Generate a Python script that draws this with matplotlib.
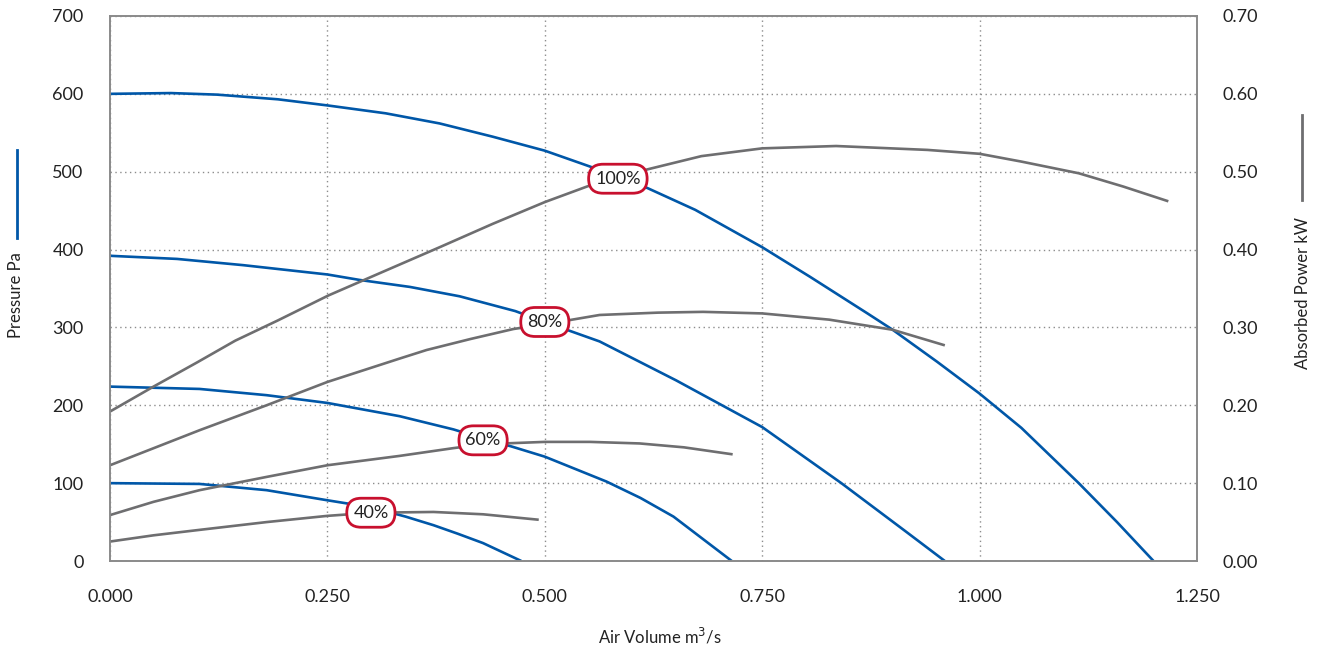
import matplotlib
matplotlib.use("Agg")
import matplotlib.pyplot as plt
from matplotlib.lines import Line2D
from matplotlib.ticker import FormatStrFormatter

plt.rcParams['font.family'] = ['Lato', 'DejaVu Sans']

# fan pressure curves (Pa) per speed
q_p100 = [0, 0.07, 0.123, 0.193, 0.251, 0.317, 0.379, 0.44, 0.5, 0.551, 0.618, 0.673, 0.75,
          0.805, 0.871, 0.9, 0.951, 1.0, 1.048, 1.114, 1.158, 1.2]
p100 = [600, 601, 599, 593, 585, 575, 562, 545, 527, 507, 479, 451, 403,
        365, 318, 297, 256, 215, 171, 100, 50, 0]
q_p80 = [0, 0.077, 0.153, 0.25, 0.287, 0.345, 0.402, 0.466, 0.5, 0.563, 0.651, 0.75, 0.841, 0.915, 0.96]
p80 = [392, 388, 380, 368, 361, 352, 340, 321, 307, 282, 232, 172, 100, 38, 0]
q_p60 = [0, 0.103, 0.18, 0.25, 0.333, 0.395, 0.43, 0.462, 0.5, 0.571, 0.61, 0.648, 0.715]
p60 = [224, 221, 213, 203, 186, 169, 157, 147, 134, 102, 81, 57, 0]
q_p40 = [0, 0.103, 0.18, 0.25, 0.30, 0.34, 0.372, 0.40, 0.429, 0.473]
p40 = [100, 99, 91, 78, 69, 57, 46, 35, 23, 0]

# absorbed power curves (kW)
q_w100 = [0, 0.05, 0.1, 0.144, 0.193, 0.251, 0.317, 0.379, 0.44, 0.5, 0.551, 0.618, 0.68,
          0.75, 0.835, 0.94, 1.0, 1.048, 1.114, 1.165, 1.217]
w100 = [0.192, 0.224, 0.255, 0.283, 0.309, 0.341, 0.373, 0.403, 0.433, 0.461, 0.482, 0.503, 0.520,
        0.530, 0.533, 0.528, 0.523, 0.513, 0.498, 0.481, 0.462]
q_w80 = [0, 0.103, 0.18, 0.25, 0.333, 0.364, 0.414, 0.464, 0.5, 0.563, 0.63, 0.682, 0.75, 0.827, 0.9, 0.96]
w80 = [0.123, 0.168, 0.200, 0.230, 0.260, 0.271, 0.285, 0.298, 0.304, 0.316, 0.319, 0.320, 0.318, 0.310, 0.297, 0.277]
q_w60 = [0, 0.05, 0.103, 0.18, 0.25, 0.333, 0.395, 0.43, 0.5, 0.552, 0.609, 0.66, 0.716]
w60 = [0.059, 0.076, 0.091, 0.108, 0.123, 0.135, 0.145, 0.150, 0.153, 0.153, 0.151, 0.146, 0.137]
q_w40 = [0, 0.05, 0.103, 0.18, 0.25, 0.30, 0.372, 0.429, 0.493]
w40 = [0.025, 0.033, 0.040, 0.050, 0.058, 0.062, 0.063, 0.060, 0.053]

speed_labels = ["100%", "80%", "60%", "40%"]
label_q = [0.584, 0.50, 0.429, 0.30]
label_p = [491, 307, 155, 62]

blue = "#0057a8"
grey = "#6e6e70"
red = "#c8102e"

fig = plt.figure(figsize=(13.24, 6.5), dpi=100)
ax = fig.add_axes([0.0831, 0.1369, 0.821, 0.8385])
ax2 = ax.twinx()

for q, p in [(q_p100, p100), (q_p80, p80), (q_p60, p60), (q_p40, p40)]:
    ax.plot(q, p, color=blue, lw=1.9, solid_capstyle='butt', solid_joinstyle='round')
for q, w in [(q_w100, w100), (q_w80, w80), (q_w60, w60), (q_w40, w40)]:
    ax2.plot(q, w, color=grey, lw=1.9, solid_capstyle='butt', solid_joinstyle='round')

ax.set_xlim(0, 1.25)
ax.set_ylim(0, 700)
ax2.set_ylim(0, 0.70)
ax.set_xticks([0, 0.25, 0.5, 0.75, 1.0, 1.25])
ax.set_yticks(range(0, 701, 100))
ax2.set_yticks([i / 10 for i in range(8)])
ax.xaxis.set_major_formatter(FormatStrFormatter('%.3f'))
ax2.yaxis.set_major_formatter(FormatStrFormatter('%.2f'))

ax.grid(True, ls=(0, (1, 2.5)), color="#8c8c8c", lw=1.0)
ax.tick_params(axis='both', length=0, labelsize=13, colors="#222222")
ax.tick_params(axis='x', pad=20)
ax.tick_params(axis='y', pad=19)
ax2.tick_params(axis='y', length=0, labelsize=13, colors="#222222", pad=18)
for a in (ax, ax2):
    for s in a.spines.values():
        s.set_color("#8a8a8a")
        s.set_linewidth(1.2)

for txt, q, p in zip(speed_labels, label_q, label_p):
    ax2.text(q, p, txt, transform=ax.transData, ha='center', va='center',
             fontsize=13, color="#222222", zorder=5,
             bbox=dict(boxstyle="round,pad=0.36,rounding_size=0.8",
                       fc="white", ec=red, lw=2))

# axis titles with line keys
fig.text(660 / 1324, 1 - 636 / 650, "Air Volume m$^3$/s", ha='center', va='center',
         fontsize=12, color="#222222")
fig.text(16 / 1324, 1 - 295 / 650, "Pressure Pa", rotation=90, ha='center', va='center',
         fontsize=12, color="#222222")
fig.add_artist(Line2D([17 / 1324, 17 / 1324], [1 - 150 / 650, 1 - 238 / 650],
                      color=blue, lw=2))
fig.text(1303 / 1324, 1 - 293 / 650, "Absorbed Power kW", rotation=90, ha='center',
         va='center', fontsize=12, color="#222222")
fig.add_artist(Line2D([1302 / 1324, 1302 / 1324], [1 - 115 / 650, 1 - 200 / 650],
                      color=grey, lw=2))

fig.savefig("out.png", dpi=100)
